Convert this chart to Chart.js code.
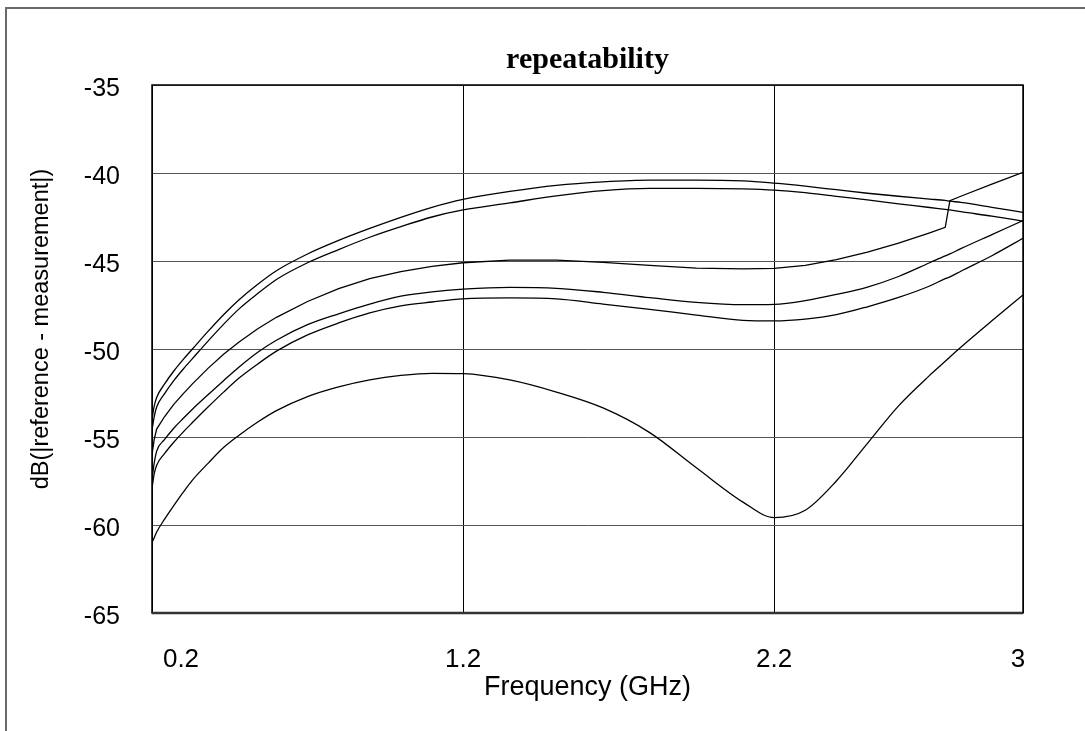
<!DOCTYPE html>
<html>
<head>
<meta charset="utf-8">
<script src="https://cdn.jsdelivr.net/npm/chart.js@4.4.1/dist/chart.umd.min.js"></script>
<style>
  html, body { margin: 0; padding: 0; background: #fff; overflow: hidden; }
  #wrap { position: relative; width: 1085px; height: 731px; }
  #frame { position: absolute; left: 5px; top: 7px; width: 1200px; height: 900px;
           border-top: 2px solid #6a6a6a; border-left: 2px solid #6a6a6a; pointer-events: none; }
  canvas { position: absolute; left: 0; top: 0; }
</style>
</head>
<body>
<div id="wrap">
  <canvas id="chart" width="1085" height="731"></canvas>
  <div id="frame"></div>
</div>
<script>
// frequency grid (GHz) shared by all traces
const freqs = [0.2, 0.207, 0.215, 0.24, 0.27, 0.3, 0.33, 0.38, 0.43, 0.48, 0.54, 0.6, 0.7, 0.8, 0.9, 1.0, 1.1, 1.2,
  1.35, 1.5, 1.65, 1.8, 1.95, 2.1, 2.2, 2.3, 2.4, 2.5, 2.6, 2.7, 2.75, 2.765, 2.8, 2.9, 3.0];

const traceA = [-54.0, -53.25, -52.75, -52.0, -51.25, -50.6, -50.0, -49.0, -48.05, -47.2, -46.32, -45.55, -44.6, -43.83, -43.15, -42.52, -41.95, -41.5,
  -41.05, -40.7, -40.5, -40.4, -40.4, -40.45, -40.58, -40.75, -40.95, -41.15, -41.32, -41.48, -41.56, -41.6, -41.67, -41.95, -42.24];
const traceB = [-54.6, -53.85, -53.3, -52.55, -51.8, -51.15, -50.55, -49.55, -48.6, -47.72, -46.85, -46.05, -45.1, -44.35, -43.65, -43.05, -42.5, -42.1,
  -41.7, -41.3, -41.0, -40.87, -40.87, -40.9, -40.97, -41.12, -41.33, -41.53, -41.75, -41.96, -42.07, -42.1, -42.2, -42.45, -42.73];
const traceC = [-56.0, -55.15, -54.55, -53.85, -53.15, -52.55, -51.98, -51.1, -50.3, -49.6, -48.85, -48.2, -47.3, -46.57, -46.0, -45.6, -45.3, -45.1,
  -44.95, -44.95, -45.08, -45.25, -45.4, -45.45, -45.42, -45.25, -44.92, -44.5, -43.98, -43.4, -43.09, -41.57, -41.32, -40.63, -39.96];
const traceD = [-57.4, -56.5, -55.8, -55.15, -54.5, -53.95, -53.42, -52.6, -51.8, -51.02, -50.18, -49.5, -48.62, -48.0, -47.45, -47.0, -46.75, -46.6,
  -46.5, -46.55, -46.78, -47.08, -47.35, -47.48, -47.46, -47.25, -46.9, -46.48, -45.88, -45.1, -44.71, -44.6, -44.3, -43.5, -42.7];
const traceE = [-57.9, -57.1, -56.6, -55.95, -55.3, -54.72, -54.18, -53.3, -52.45, -51.65, -50.85, -50.12, -49.2, -48.52, -47.95, -47.55, -47.33, -47.15,
  -47.1, -47.15, -47.45, -47.75, -48.07, -48.37, -48.4, -48.3, -48.05, -47.6, -47.07, -46.42, -46.0, -45.9, -45.58, -44.7, -43.71];
const traceF = [-61.0, -60.72, -60.4, -59.68, -58.9, -58.15, -57.45, -56.5, -55.6, -54.9, -54.15, -53.5, -52.7, -52.15, -51.75, -51.5, -51.38, -51.4,
  -51.76, -52.45, -53.35, -54.75, -56.75, -58.7, -59.58, -59.16, -57.5, -55.36, -53.23, -51.5, -50.7, -50.45, -49.9, -48.4, -46.93];

const xTicks = [0.2, 1.2, 2.2, 3];
const yTicks = [-35, -40, -45, -50, -55, -60, -65];

const traces = [traceA, traceB, traceC, traceD, traceE, traceF];

const datasets = traces.map((vals, k) => ({
  data: freqs.map((f, i) => ({ x: f, y: vals[i] })),
  borderColor: '#000',
  borderWidth: 1.3,
  pointRadius: 0,
  fill: false,
  // trace C has a step near 2.76 GHz, keep it straight
  cubicInterpolationMode: k === 2 ? 'default' : 'monotone',
  tension: 0
}));

const sans = '"Liberation Sans", Arial, sans-serif';

// plot frame, title, x tick labels and axis titles
const framePlugin = {
  id: 'frame',
  afterDraw(chart) {
    const { ctx, chartArea: a } = chart;
    const xs = chart.scales.x;
    ctx.save();
    ctx.strokeStyle = '#000';
    ctx.lineWidth = 1.5;
    ctx.strokeRect(a.left, a.top, a.right - a.left, a.bottom - a.top);
    ctx.strokeStyle = '#333';
    ctx.lineWidth = 2.5;
    ctx.beginPath();
    ctx.moveTo(a.left, a.bottom);
    ctx.lineTo(a.right, a.bottom);
    ctx.stroke();

    ctx.fillStyle = '#000';
    ctx.textAlign = 'center';
    ctx.textBaseline = 'middle';
    ctx.font = 'bold 30px "Liberation Serif", "Times New Roman", serif';
    ctx.fillText('repeatability', (a.left + a.right) / 2, 60);

    // x tick labels: first one sits inside the axis start, last one slightly in
    const shift = [29, 0, 0, -5];
    ctx.font = '26px ' + sans;
    xTicks.forEach((v, i) => {
      ctx.fillText(String(v), xs.getPixelForValue(v) + shift[i], 660);
    });

    ctx.font = '27px ' + sans;
    ctx.fillText('Frequency (GHz)', (a.left + a.right) / 2, 688);

    ctx.translate(42, 329);
    ctx.rotate(-Math.PI / 2);
    ctx.font = '23.5px ' + sans;
    ctx.fillText('dB(|reference - measurement|)', 0, 0);
    ctx.restore();
  }
};

new Chart(document.getElementById('chart'), {
  type: 'line',
  data: { datasets },
  plugins: [framePlugin],
  options: {
    responsive: false,
    animation: false,
    layout: { padding: { left: 0, right: 62, top: 85, bottom: 0 } },
    plugins: { legend: { display: false }, tooltip: { enabled: false }, title: { display: false } },
    scales: {
      x: {
        type: 'linear',
        min: 0.2,
        max: 3,
        afterBuildTicks: s => { s.ticks = xTicks.map(v => ({ value: v })); },
        afterFit: s => { s.height = 118; },
        grid: { color: '#000', lineWidth: 1, drawTicks: false },
        border: { display: false },
        ticks: { display: false }
      },
      y: {
        min: -65,
        max: -35,
        afterBuildTicks: s => { s.ticks = yTicks.map(v => ({ value: v })); },
        afterFit: s => { s.width = 152; },
        grid: { color: '#555', lineWidth: 1, drawTicks: false },
        border: { display: false },
        ticks: {
          color: '#000', font: { family: sans, size: 25 }, padding: 32, labelOffset: 4,
          callback: v => String(v)
        }
      }
    }
  }
});
</script>
</body>
</html>
